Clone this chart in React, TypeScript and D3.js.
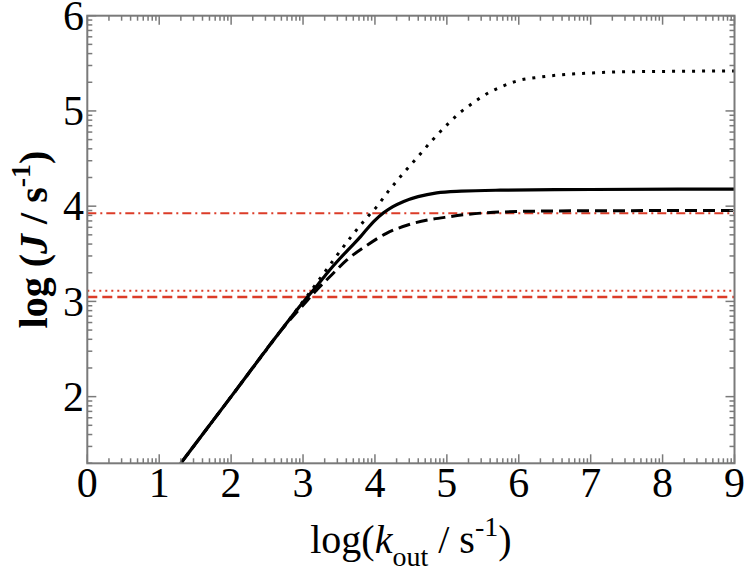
import React from "react";
import * as d3 from "d3";

const W = 747;
const H = 569;

// Solid curve
const solidX = [1.3, 2.0, 2.8, 3.0, 3.2, 3.36, 3.5, 3.65, 3.8, 3.89, 4.0, 4.12, 4.25, 4.4, 4.6, 4.86, 5.2, 5.74, 7.0, 9.0];
const solidY = [1.3, 2.0, 2.8, 2.99, 3.17, 3.32, 3.44, 3.56, 3.68, 3.76, 3.85, 3.93, 3.995, 4.05, 4.1, 4.14, 4.158, 4.168, 4.175, 4.18];

// Dashed curve
const dashX = [1.3, 2.0, 2.8, 3.0, 3.19, 3.4, 3.61, 3.89, 4.16, 4.49, 5.04, 5.65, 6.5, 9.0];
const dashY = [1.3, 2.0, 2.79, 2.96, 3.12, 3.28, 3.435, 3.59, 3.715, 3.81, 3.89, 3.935, 3.95, 3.955];

// Dotted curve
const dotX = [1.3, 2.0, 3.0, 3.9, 4.02, 4.19, 4.31, 4.44, 4.57, 4.8, 5.03, 5.17, 5.31, 5.45, 5.59, 5.73, 6.0, 6.29, 6.57, 6.85, 7.13, 7.41, 8.0, 9.0];
const dotY = [1.3, 2.0, 3.0, 3.89, 3.99, 4.16, 4.27, 4.385, 4.495, 4.695, 4.875, 4.975, 5.055, 5.13, 5.195, 5.245, 5.32, 5.355, 5.378, 5.393, 5.403, 5.41, 5.415, 5.42];

// Red reference lines
const refDashDot = 3.925;
const refDotted = 3.113;
const refDashed = 3.047;

const xTickLabels = [0, 1, 2, 3, 4, 5, 6, 7, 8, 9];
const yTickLabels = [2, 3, 4, 5, 6];

const X0 = 87.3, X1 = 734.5, Y0 = 463.3, Y1 = 15.7;

export default function App() {
  const x = d3.scaleLinear().domain([0, 9]).range([X0, X1]);
  const y = d3.scaleLinear().domain([1.3, 6]).range([Y0, Y1]);
  const mk = (xs: number[], ys: number[]) =>
    d3.line<number>().x((_, i) => x(xs[i])).y((_, i) => y(ys[i])).curve(d3.curveMonotoneX)(xs) || "";

  const xMajor = d3.range(0, 10);
  const xMinor: number[] = [];
  for (let i = 0; i < 9; i++) for (let k = 2; k <= 9; k++) xMinor.push(i + Math.log10(k));
  const yMajor = [2, 3, 4, 5, 6];
  const yMinor: number[] = [];
  for (let i = 1; i < 6; i++) for (let k = 2; k <= 9; k++) {
    const v = i + Math.log10(k);
    if (v >= 1.3) yMinor.push(v);
  }
  const axisCol = "#7a7a7a";
  const red = "#dc3c28";
  const MJ = 9, MN = 5;
  const tickFs = 42;

  return (
    <svg width={W} height={H} style={{ position: "absolute", left: 0, top: 0, background: "#fff" }}
      fontFamily="'Liberation Serif', 'Times New Roman', serif">
      <defs>
        <clipPath id="plot">
          <rect x={X0} y={Y1} width={X1 - X0} height={Y0 - Y1} />
        </clipPath>
      </defs>
      <g clipPath="url(#plot)" fill="none">
        <line x1={X0} x2={X1} y1={y(refDashDot)} y2={y(refDashDot)} stroke={red} strokeWidth={2} strokeDasharray="9 4 2 4" />
        <line x1={X0} x2={X1} y1={y(refDotted)} y2={y(refDotted)} stroke={red} strokeWidth={2} strokeDasharray="2 4" />
        <line x1={X0} x2={X1} y1={y(refDashed)} y2={y(refDashed)} stroke={red} strokeWidth={2.5} strokeDasharray="10 5" />
        <path d={mk(dotX, dotY)} stroke="#000" strokeWidth={3} strokeDasharray="3 7" />
        <path d={mk(dashX, dashY)} stroke="#000" strokeWidth={3} strokeDasharray="12 6" />
        <path d={mk(solidX, solidY)} stroke="#000" strokeWidth={3.2} />
      </g>
      <g stroke={axisCol} strokeWidth={1.5}>
        {xMinor.map((v, i) => (
          <g key={"xm" + i}>
            <line x1={x(v)} x2={x(v)} y1={Y0} y2={Y0 - MN} />
            <line x1={x(v)} x2={x(v)} y1={Y1} y2={Y1 + MN} />
          </g>
        ))}
        {xMajor.map((v, i) => (
          <g key={"xM" + i}>
            <line x1={x(v)} x2={x(v)} y1={Y0} y2={Y0 - MJ} />
            <line x1={x(v)} x2={x(v)} y1={Y1} y2={Y1 + MJ} />
          </g>
        ))}
        {yMinor.map((v, i) => (
          <g key={"ym" + i}>
            <line x1={X0} x2={X0 + MN} y1={y(v)} y2={y(v)} />
            <line x1={X1} x2={X1 - MN} y1={y(v)} y2={y(v)} />
          </g>
        ))}
        {yMajor.map((v, i) => (
          <g key={"yM" + i}>
            <line x1={X0} x2={X0 + MJ} y1={y(v)} y2={y(v)} />
            <line x1={X1} x2={X1 - MJ} y1={y(v)} y2={y(v)} />
          </g>
        ))}
      </g>
      <rect x={X0} y={Y1} width={X1 - X0} height={Y0 - Y1} fill="none" stroke={axisCol} strokeWidth={2} />
      <g fontSize={tickFs} fill="#000">
        {xTickLabels.map((v) => (
          <text key={"xl" + v} x={x(v)} y={497} textAnchor="middle">{v}</text>
        ))}
        {yTickLabels.map((v) => (
          <text key={"yl" + v} x={84} y={y(v) + 0.338 * tickFs} textAnchor="end">{v}</text>
        ))}
      </g>
      <text x={(X0 + X1) / 2} y={553} textAnchor="middle" fontSize={40} fill="#000">
        <tspan>log(</tspan>
        <tspan fontStyle="italic">k</tspan>
        <tspan fontSize={28} dy={13}>out</tspan>
        <tspan dy={-13}> / s</tspan>
        <tspan fontSize={28} dy={-17}>-1</tspan>
        <tspan dy={17}>)</tspan>
      </text>
      <text transform={`translate(47, ${(Y0 + Y1) / 2}) rotate(-90)`} textAnchor="middle" fontSize={40} fontWeight="bold" fill="#000">
        <tspan>log (</tspan>
        <tspan fontStyle="italic">J</tspan>
        <tspan> / s</tspan>
        <tspan fontSize={28} dy={-17}>-1</tspan>
        <tspan dy={17}>)</tspan>
      </text>
    </svg>
  );
}
